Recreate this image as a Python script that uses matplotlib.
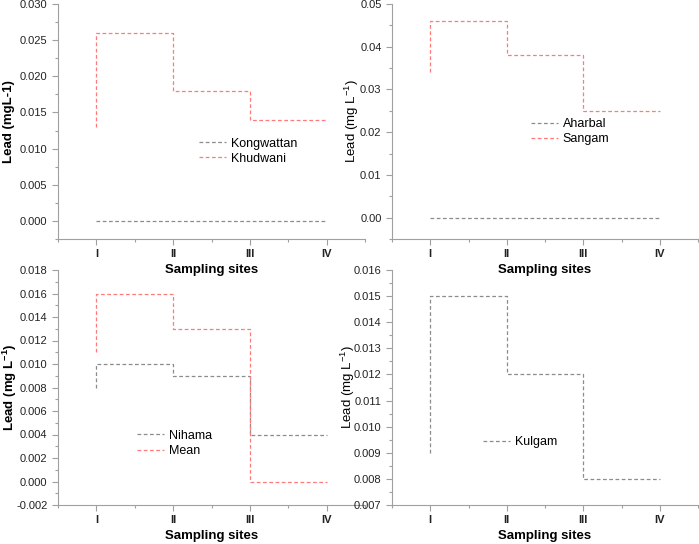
import matplotlib
matplotlib.use("Agg")
import matplotlib.pyplot as plt
from matplotlib.ticker import FormatStrFormatter, MultipleLocator, AutoMinorLocator

plt.rcParams['font.family'] = ['Liberation Sans', 'DejaVu Sans']
plt.rcParams['mathtext.fontset'] = 'custom'
plt.rcParams['mathtext.rm'] = 'Liberation Sans'
plt.rcParams['mathtext.bf'] = 'Liberation Sans:bold'

sites = ["I", "II", "III", "IV"]
x = [1, 2, 3, 4]

kongwattan = [0.0, 0.0, 0.0, 0.0]
khudwani = [0.013, 0.026, 0.018, 0.014]
aharbal = [0.0, 0.0, 0.0, 0.0]
sangam = [0.034, 0.046, 0.038, 0.025]
nihama = [0.008, 0.010, 0.009, 0.004]
mean = [0.011, 0.016, 0.013, 0.000]
kulgam = [0.009, 0.015, 0.012, 0.008]

gray = "#8c8c8c"
red = "#ff7a7a"
spine_col = "#a0a0a0"

W, H = 699, 544
fig = plt.figure(figsize=(W / 100, H / 100), dpi=100)

def px_axes(l, t, r, b):
    return fig.add_axes([l / W, 1 - b / H, (r - l) / W, (b - t) / H])

panels = [
    dict(box=(58, 4, 365, 239), series=[("Kongwattan", kongwattan, gray), ("Khudwani", khudwani, red)],
         ylim=(-0.0025, 0.030), step=0.005, fmt="%.3f", ylabel="Lead (mgL-1)", bold=True,
         leg=(0.459, 0.374), labx=-0.14),
    dict(box=(392, 4, 698, 239), series=[("Aharbal", aharbal, gray), ("Sangam", sangam, red)],
         ylim=(-0.005, 0.050), step=0.01, fmt="%.2f", ylabel=r"Lead (mg L$^{-1}$)", bold=False,
         leg=(0.454, 0.457), labx=-0.102),
    dict(box=(58, 270, 365, 505), series=[("Nihama", nihama, gray), ("Mean", mean, red)],
         ylim=(-0.002, 0.018), step=0.002, fmt="%.3f", ylabel=r"Lead (mg L$^{\mathbf{-1}}$)", bold=True,
         leg=(0.257, 0.262), labx=-0.127),
    dict(box=(392, 270, 698, 505), series=[("Kulgam", kulgam, gray)],
         ylim=(0.007, 0.016), step=0.001, fmt="%.3f", ylabel=r"Lead (mg L$^{-1}$)", bold=False,
         leg=(0.297, 0.268), labx=-0.116),
]

for p in panels:
    ax = px_axes(*p["box"])
    ax.set_facecolor("none")
    for name, vals, col in p["series"]:
        ax.step(x, vals, where="pre", color=col, linestyle=(0, (3, 2)), linewidth=0.9, label=name)
    ax.set_xlim(0.5, 4.5)
    ax.set_ylim(*p["ylim"])
    ax.set_xticks(x)
    ax.set_xticklabels(sites, fontweight="bold")
    ax.xaxis.set_minor_locator(MultipleLocator(0.5))
    ax.yaxis.set_major_locator(MultipleLocator(p["step"]))
    ax.yaxis.set_minor_locator(AutoMinorLocator(2))
    ax.yaxis.set_major_formatter(FormatStrFormatter(p["fmt"]))
    for s in ["top", "right"]:
        ax.spines[s].set_visible(False)
    for s in ["left", "bottom"]:
        ax.spines[s].set_color(spine_col)
        ax.spines[s].set_linewidth(0.8)
    ax.tick_params(which="both", direction="out", color=spine_col, labelsize=8, labelcolor="#222222")
    ax.tick_params(which="major", length=4, width=0.8)
    ax.tick_params(which="minor", length=2.5, width=0.8)
    ax.set_xlabel("Sampling sites", fontsize=9.5, fontweight="bold", labelpad=3)
    ax.set_ylabel(p["ylabel"], fontsize=9.5, fontweight="bold" if p["bold"] else "normal")
    ax.yaxis.set_label_coords(p["labx"], 0.5)
    ax.legend(loc="center left", bbox_to_anchor=p["leg"], frameon=False, fontsize=9,
              handlelength=2.2, handletextpad=0.35, labelspacing=0.25,
              borderpad=0, borderaxespad=0)

fig.savefig("out.png", dpi=100)
plt.close(fig)
